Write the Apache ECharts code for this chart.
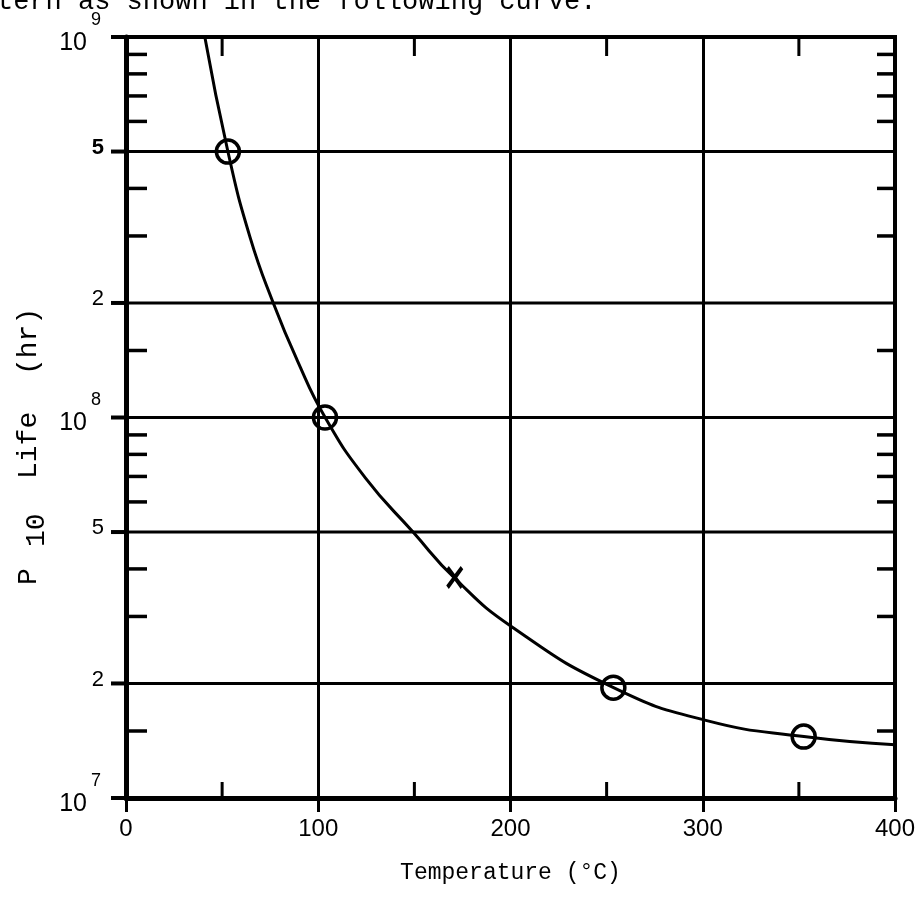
<!DOCTYPE html>
<html>
<head>
<meta charset="utf-8">
<script src="https://cdn.jsdelivr.net/npm/echarts@6/dist/echarts.min.js"></script>
<style>html,body{margin:0;background:#fff}#chart{width:919px;height:902px}</style>
</head>
<body>
<div id="chart"></div>
<script>
// curve (temperature °C, P10 life hr)
const curveTemp = [41, 53, 64.5, 76.6, 88.9, 103.6, 124.5, 149.3, 171, 201, 253.6, 301.6, 352.6, 400];
const curveLife = [1e9, 5e8, 2.98e8, 2e8, 1.42e8, 1e8, 6.94e7, 5e7, 3.78e7, 2.81e7, 1.95e7, 1.6e7, 1.45e7, 1.38e7];

// measured points (circles) and the extra point (cross)
const circleTemp = [53, 103.5, 253.5, 352.5];
const circleLife = [5e8, 1e8, 1.95e7, 1.45e7];
const crossTemp = [171];
const crossLife = [3.8e7];

// axis decoration
const xMinorTicks = [50, 150, 250, 350];
const yGridLines = [2e7, 5e7, 1e8, 2e8, 5e8];
const yMinorTicks = [1.5e7, 3e7, 4e7, 6e7, 7e7, 8e7, 9e7, 1.5e8, 3e8, 4e8, 6e8, 7e8, 8e8, 9e8];
const yTickLabels = [1e7, 2e7, 5e7, 1e8, 2e8, 5e8, 1e9];

const X_MIN = 0, X_MAX = 400, Y_MIN = 1e7, Y_MAX = 1e9;
const SANS = "'Liberation Sans', Arial, sans-serif";
const MONO = "'Liberation Mono', 'Courier New', monospace";

const chart = echarts.init(document.getElementById('chart'));

function line(x1, y1, x2, y2, w) {
  return { type: 'line', shape: { x1, y1, x2, y2 }, style: { stroke: '#000', lineWidth: w } };
}

function monoText(x, y, text, size) {
  return { type: 'text', x, y, style: { text, fill: '#000', font: size + 'px ' + MONO, verticalAlign: 'bottom' } };
}

chart.setOption({
  animation: false,
  backgroundColor: '#fff',
  grid: { left: 126, right: 24, top: 37, bottom: 104, show: true, borderColor: '#000', borderWidth: 4 },
  xAxis: {
    type: 'value', min: X_MIN, max: X_MAX, interval: 100,
    axisLine: { lineStyle: { color: '#000', width: 5 } },
    axisTick: { length: 14, lineStyle: { color: '#000', width: 3 } },
    axisLabel: { color: '#000', fontSize: 24, fontFamily: SANS, margin: 19 },
    splitLine: { show: true, lineStyle: { color: '#000', width: 3 } },
    name: 'Temperature (°C)', nameLocation: 'middle', nameGap: 63,
    nameTextStyle: { color: '#000', fontSize: 23, fontFamily: MONO }
  },
  yAxis: {
    type: 'log', logBase: 10, min: Y_MIN, max: Y_MAX,
    axisLine: { show: true, lineStyle: { color: '#000', width: 5 } },
    axisTick: { show: false },
    axisLabel: { show: false },
    splitLine: { show: false }
  },
  graphic: [
    monoText(-3, 15, 'tern as shown in the following curve.', 27),
    {
      type: 'group', x: 37, y: 587, rotation: Math.PI / 2,
      children: [
        monoText(2, 6, 'P', 28),
        monoText(40, 14, '10', 28),
        monoText(108, 6, 'Life', 28),
        monoText(212, 6, '(hr)', 28)
      ]
    }
  ],
  series: [
    {
      // horizontal grid lines at 2 and 5 of each decade, plus 10^8
      type: 'custom', silent: true,
      data: yGridLines.map(v => [X_MIN, v]),
      renderItem(params, api) {
        const v = api.value(1);
        const a = api.coord([X_MIN, v]), b = api.coord([X_MAX, v]);
        return line(a[0], a[1], b[0], b[1], 3);
      }
    },
    {
      // minor ticks on both side borders
      type: 'custom', silent: true,
      data: yMinorTicks.map(v => [X_MIN, v]),
      renderItem(params, api) {
        const v = api.value(1);
        const a = api.coord([X_MIN, v]), b = api.coord([X_MAX, v]);
        return {
          type: 'group',
          children: [line(a[0], a[1], a[0] + 21, a[1], 3.5), line(b[0] - 18, b[1], b[0], b[1], 3.5)]
        };
      }
    },
    {
      // minor ticks on top and bottom borders
      type: 'custom', silent: true,
      data: xMinorTicks.map(v => [v, Y_MIN]),
      renderItem(params, api) {
        const v = api.value(0);
        const a = api.coord([v, Y_MIN]), b = api.coord([v, Y_MAX]);
        return {
          type: 'group',
          children: [line(a[0], a[1], a[0], a[1] - 16, 3), line(b[0], b[1], b[0], b[1] + 19, 3)]
        };
      }
    },
    {
      // y tick labels: 10^n and mantissas 2, 5, with outward stubs
      type: 'custom', silent: true,
      data: yTickLabels.map(v => [X_MIN, v]),
      renderItem(params, api) {
        const v = api.value(1);
        const p = api.coord([X_MIN, v]);
        const e = Math.floor(Math.log10(v) + 1e-9);
        const m = Math.round(v / Math.pow(10, e));
        const kids = [line(p[0] - 15, p[1], p[0], p[1], 4)];
        if (m === 1) {
          kids.push({ type: 'text', x: 87, y: p[1] + 6,
            style: { text: '10', fill: '#000', fontSize: 25, fontFamily: SANS, align: 'right', verticalAlign: 'middle' } });
          kids.push({ type: 'text', x: 91, y: p[1] - 17,
            style: { text: String(e), fill: '#000', fontSize: 18, fontFamily: SANS, align: 'left', verticalAlign: 'middle' } });
        } else {
          kids.push({ type: 'text', x: 104, y: p[1] - 4,
            style: { text: String(m), fill: '#000', fontSize: 22, fontFamily: SANS, align: 'right', verticalAlign: 'middle',
              fontWeight: v === 5e8 ? 'bold' : 'normal' } });
        }
        return { type: 'group', children: kids };
      }
    },
    {
      type: 'line', smooth: 0.5, showSymbol: false, symbol: 'none',
      data: curveTemp.map((t, i) => [t, curveLife[i]]),
      lineStyle: { color: '#000', width: 3 }
    },
    {
      type: 'scatter', symbol: 'circle', symbolSize: 23,
      data: circleTemp.map((t, i) => [t, circleLife[i]]),
      itemStyle: { color: 'rgba(0,0,0,0)', borderColor: '#000', borderWidth: 3.5, opacity: 1 }
    },
    {
      type: 'scatter',
      symbol: 'path://M0,3 L3,0 L10,7 L17,0 L20,3 L13,10 L20,17 L17,20 L10,13 L3,20 L0,17 L7,10 Z',
      symbolSize: [17, 23],
      data: crossTemp.map((t, i) => [t, crossLife[i]]),
      itemStyle: { color: '#000', opacity: 1 }
    }
  ]
});
</script>
</body>
</html>
